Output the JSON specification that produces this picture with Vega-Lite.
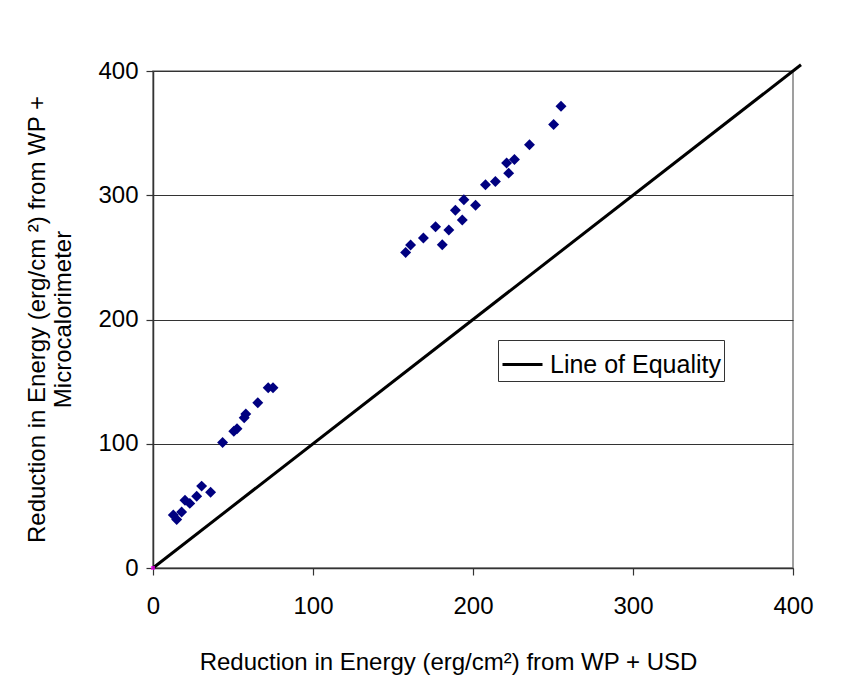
{
  "$schema": "https://vega.github.io/schema/vega-lite/v6.json",
  "width": 640,
  "height": 497,
  "autosize": {"type": "none"},
  "padding": {"left": 153, "top": 71, "right": 53, "bottom": 108},
  "background": "white",
  "config": {
    "font": "Liberation Sans",
    "view": {"stroke": "#808080", "strokeWidth": 1.5},
    "axis": {
      "labelFont": "Liberation Sans",
      "titleFont": "Liberation Sans",
      "labelFontSize": 24,
      "titleFontSize": 24,
      "titleFontWeight": "normal",
      "labelColor": "#000000",
      "titleColor": "#000000",
      "labelFlush": false,
      "domainColor": "#333333",
      "domainWidth": 1.5,
      "tickColor": "#333333",
      "tickWidth": 1.2,
      "tickSize": 7,
      "gridColor": "#333333",
      "gridWidth": 1.2,
      "gridOpacity": 1
    }
  },
  "datasets": {
    "obs": [
      {"usd": 12.7, "micro": 42.6},
      {"usd": 14.8, "micro": 39},
      {"usd": 17.9, "micro": 45},
      {"usd": 20, "micro": 54.6},
      {"usd": 23, "micro": 52},
      {"usd": 27.3, "micro": 57.8},
      {"usd": 30.4, "micro": 65.9},
      {"usd": 36, "micro": 61},
      {"usd": 43.5, "micro": 101},
      {"usd": 50.5, "micro": 110},
      {"usd": 52.5, "micro": 112},
      {"usd": 57, "micro": 121},
      {"usd": 58, "micro": 124},
      {"usd": 65.5, "micro": 133},
      {"usd": 72, "micro": 145},
      {"usd": 75, "micro": 145},
      {"usd": 157.9, "micro": 254},
      {"usd": 161, "micro": 260},
      {"usd": 169, "micro": 265.6},
      {"usd": 176.6, "micro": 274.7},
      {"usd": 180.8, "micro": 260.2},
      {"usd": 184.9, "micro": 272},
      {"usd": 189, "micro": 288},
      {"usd": 193.3, "micro": 280},
      {"usd": 194.3, "micro": 296.4},
      {"usd": 201.6, "micro": 292},
      {"usd": 207.8, "micro": 308.4},
      {"usd": 214, "micro": 311},
      {"usd": 222.3, "micro": 317.8},
      {"usd": 221, "micro": 326},
      {"usd": 225.9, "micro": 328.8},
      {"usd": 235.3, "micro": 340.6},
      {"usd": 250.4, "micro": 356.9},
      {"usd": 255, "micro": 371.6}
    ],
    "eq": [
      {"usd": 0, "micro": 0, "series": "Line of Equality"},
      {"usd": 405, "micro": 405, "series": "Line of Equality"}
    ],
    "origin": [
      {"usd": 0, "micro": 0}
    ]
  },
  "encoding": {
    "x": {
      "field": "usd",
      "type": "quantitative",
      "scale": {"domain": [0, 400], "nice": false, "zero": true},
      "axis": {
        "values": [0, 100, 200, 300, 400],
        "grid": false,
        "title": "Reduction in Energy (erg/cm²) from WP + USD",
        "labelPadding": 19,
        "titleX": 295,
        "titleY": 101,
        "titleBaseline": "alphabetic",
        "titleAnchor": "middle",
        "titleAlign": "center"
      }
    },
    "y": {
      "field": "micro",
      "type": "quantitative",
      "scale": {"domain": [0, 400], "nice": false, "zero": true},
      "axis": {
        "values": [0, 100, 200, 300, 400],
        "grid": true,
        "title": ["Reduction in Energy (erg/cm ²) from WP +", "Microcalorimeter"],
        "titleLineHeight": 26,
        "labelPadding": 8,
        "titleX": -128,
        "titleY": 248,
        "titleAngle": -90,
        "titleBaseline": "top",
        "titleAlign": "center"
      }
    }
  },
  "layer": [
    {
      "data": {"name": "eq"},
      "mark": {"type": "line", "color": "#000000", "strokeWidth": 3, "clip": false},
      "encoding": {
        "color": {
          "field": "series",
          "type": "nominal",
          "scale": {"range": ["#000000"]},
          "legend": {
            "title": null,
            "orient": "none",
            "legendX": 345,
            "legendY": 269,
            "symbolType": "stroke",
            "symbolStrokeWidth": 3,
            "symbolSize": 1600,
            "labelFontSize": 25,
            "labelFont": "Liberation Sans",
            "labelColor": "#000000",
            "labelLimit": 400,
            "fillColor": "white",
            "strokeColor": "#333333",
            "padding": 3,
            "labelOffset": 6
          }
        }
      }
    },
    {
      "data": {"name": "origin"},
      "mark": {"type": "point", "shape": "square", "filled": true, "color": "#FF00FF", "size": 16, "clip": false}
    },
    {
      "data": {"name": "obs"},
      "mark": {"type": "point", "shape": "diamond", "filled": true, "color": "#000080", "opacity": 1, "size": 120}
    }
  ]
}
